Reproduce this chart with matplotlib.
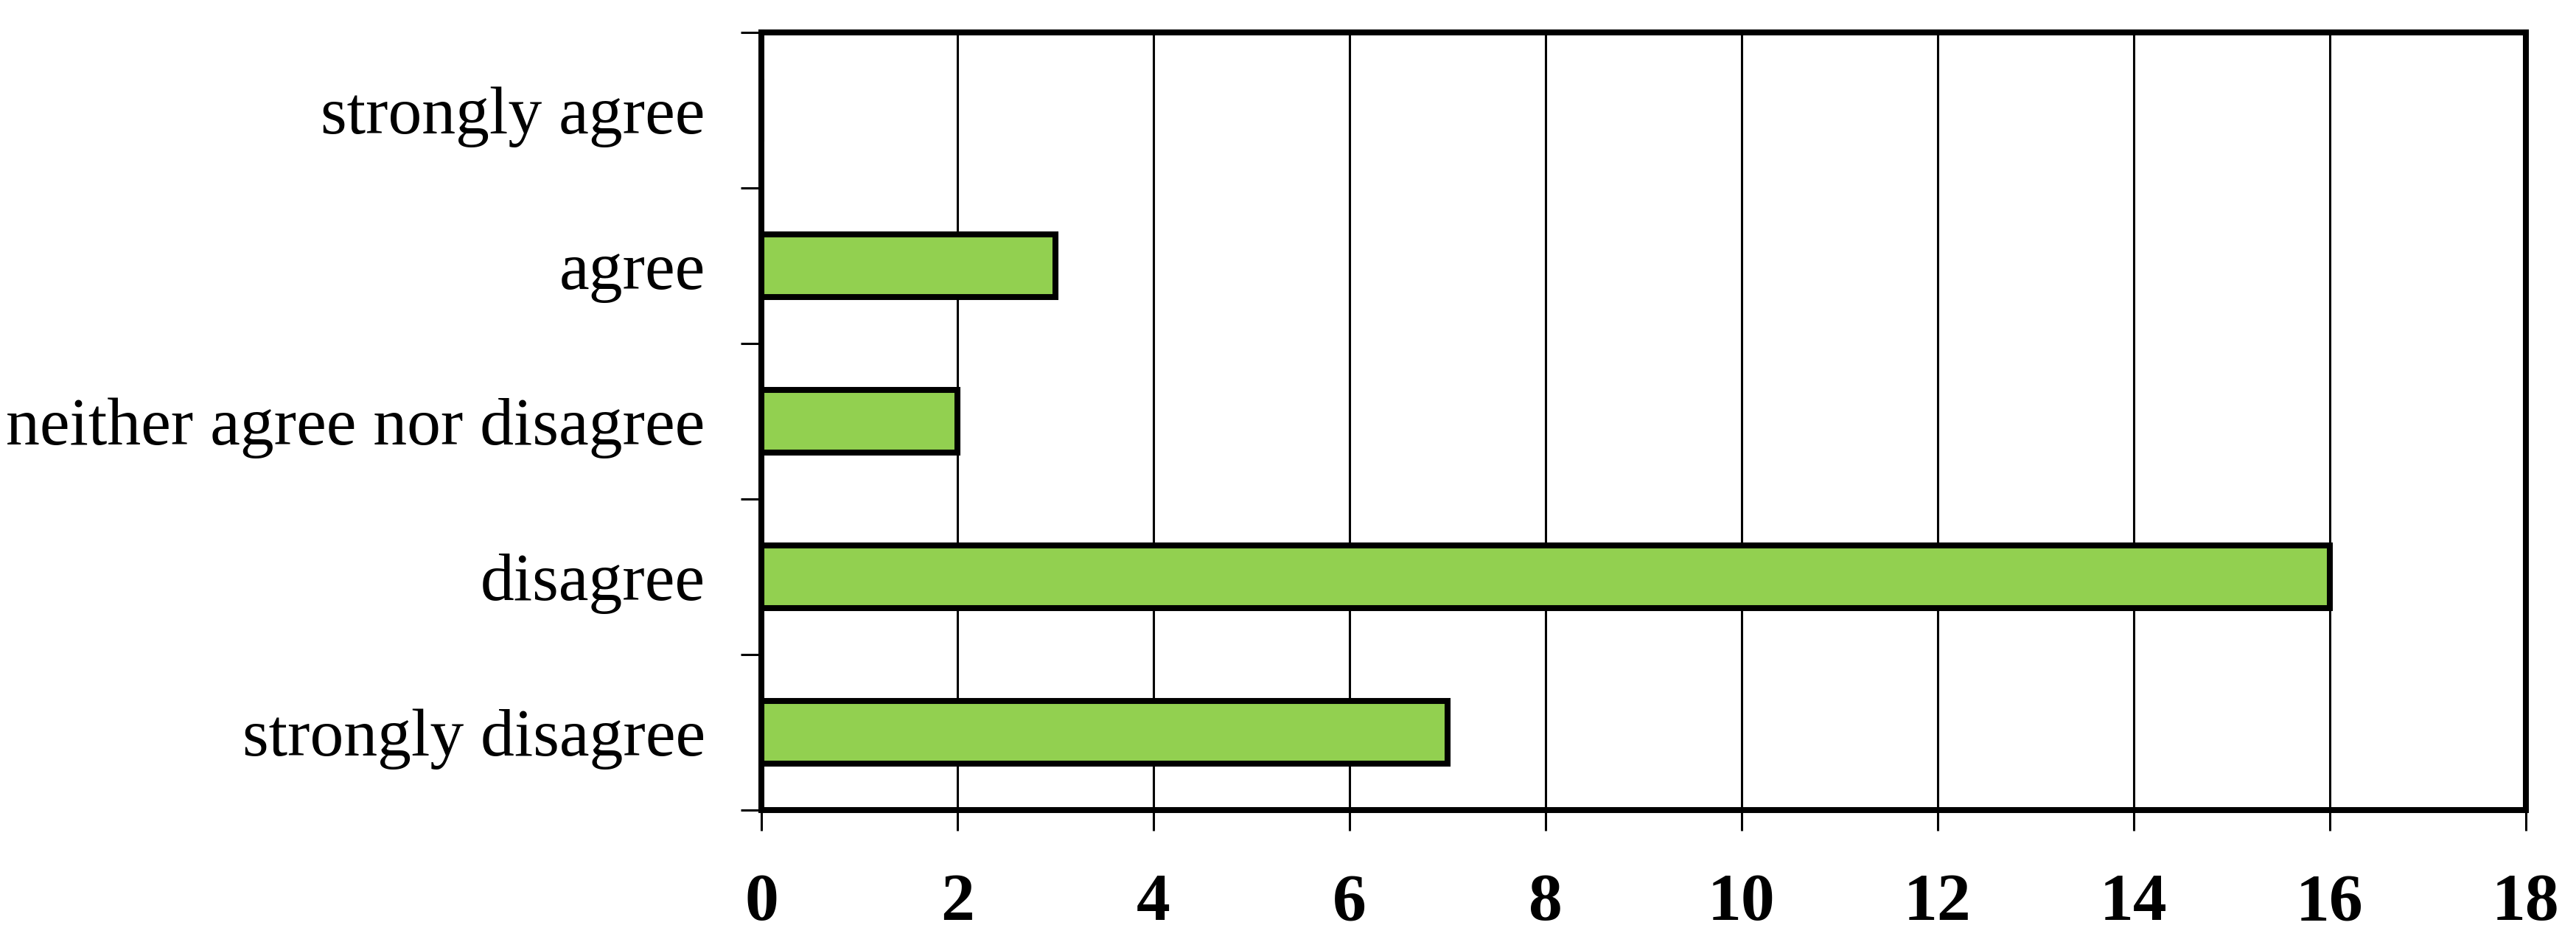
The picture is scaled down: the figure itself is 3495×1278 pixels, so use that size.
import numpy as np
import matplotlib.pyplot as plt

categories = ['strongly disagree', 'disagree', 'neither agree nor disagree', 'agree', 'strongly agree']
counts = [7, 16, 2, 3, 0]
x_ticks = [0, 2, 4, 6, 8, 10, 12, 14, 16, 18]

plt.rcParams['font.family'] = ['Liberation Serif', 'DejaVu Serif']

fig = plt.figure(figsize=(34.95, 12.78), dpi=100)
ax = fig.add_axes([0.2956, 0.140, 0.9805 - 0.2956, 0.9656 - 0.140])

y = np.arange(len(categories))
ax.barh(y, counts, height=0.4, color='#92D050', edgecolor='black', linewidth=5.8, zorder=3)

ax.set_xlim(0, 18)
ax.set_ylim(-0.5, len(categories) - 0.5)
ax.set_xticks(x_ticks)
ax.set_xticklabels([str(t) for t in x_ticks], fontsize=66, fontweight='bold')
ax.grid(axis='x', color='black', linewidth=2.2, zorder=0)
ax.set_axisbelow(True)

# category boundaries carry the tick marks, labels sit in between
ax.set_yticks(np.arange(-0.5, len(categories), 1.0))
ax.set_yticklabels([])
ax.set_yticks(y, minor=True)
ax.set_yticklabels(categories, minor=True, fontsize=66)
ax.tick_params(axis='y', which='minor', length=0, pad=55)
ax.tick_params(axis='y', which='major', length=20, width=2.2, direction='out')
ax.tick_params(axis='x', length=20, width=2.2, direction='out', pad=42)

for s in ax.spines.values():
    s.set_linewidth(5.8)
    s.set_zorder(4)

fig.savefig('out.png', dpi=100)
